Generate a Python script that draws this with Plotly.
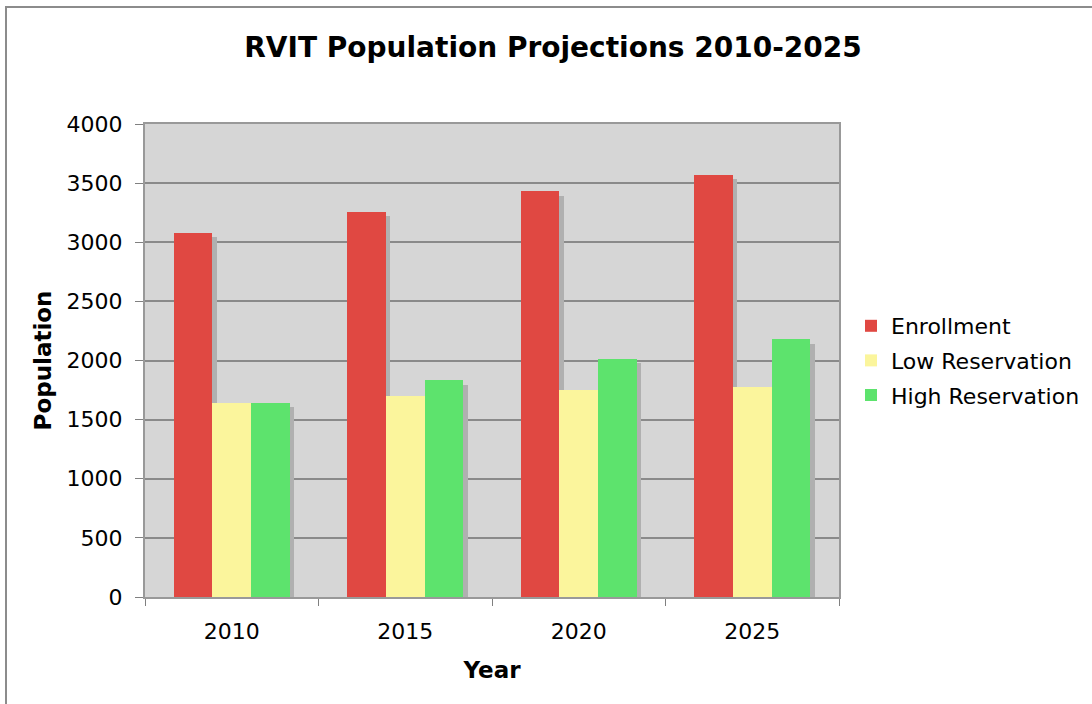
import plotly.graph_objects as go

years = ["2010", "2015", "2020", "2025"]
enrollment = [3080, 3258, 3432, 3570]
low_reservation = [1641, 1698, 1749, 1777]
high_reservation = [1641, 1833, 2014, 2178]
series_names = ["Enrollment", "Low Reservation", "High Reservation"]
series_colors = ["#e04842", "#fbf59c", "#5de36d"]
y_ticks = [0, 500, 1000, 1500, 2000, 2500, 3000, 3500, 4000]

FONT = "DejaVu Sans"
W, H = 1092, 704
ML, MR, MT, MB = 145, 253, 124, 107
PW, PH = W - ML - MR, H - MT - MB

bar_w = 0.223
offsets = [-1.5 * bar_w, -0.5 * bar_w, 0.5 * bar_w]
ymax = 4000
sh_dx = 4.5 / (PW / 4)         # shadow shift in category units
sh_dy = 4.5 * ymax / PH        # shadow shift in data units

fig = go.Figure()
all_series = [enrollment, low_reservation, high_reservation]

# shadows first
for vals, off in zip(all_series, offsets):
    fig.add_trace(go.Bar(
        x=years, y=vals, base=-sh_dy, offset=off + sh_dx, width=bar_w,
        marker=dict(color="#b0b0b0", line=dict(width=0)),
        showlegend=False, hoverinfo="skip"))

for i, (name, vals, col, off) in enumerate(zip(series_names, all_series, series_colors, offsets)):
    fig.add_trace(go.Bar(
        x=years, y=vals, name=name, offset=off, width=bar_w,
        marker=dict(color=col, line=dict(width=0)),
        legendgroup=name))

fig.update_layout(
    width=W, height=H,
    margin=dict(l=ML, r=MR, t=MT, b=MB, autoexpand=False),
    barmode="overlay",
    paper_bgcolor="white",
    plot_bgcolor="#d6d6d6",
    font=dict(family=FONT, size=22, color="black"),
    title=dict(text="<b>RVIT Population Projections 2010-2025</b>",
               x=553 / W, xanchor="center", y=1 - 47 / H, yanchor="middle",
               font=dict(size=28, family=FONT)),
    legend=dict(x=(851 - ML) / PW, xanchor="left", y=0.5, yanchor="middle",
                font=dict(size=22, family=FONT), tracegroupgap=3,
                bgcolor="rgba(0,0,0,0)", traceorder="grouped"),
    showlegend=True,
    bargap=0,
)

fig.update_xaxes(
    type="category", range=[-0.5, 3.5],
    tickson="boundaries", ticks="outside", ticklen=7, tickcolor="#808080", tickwidth=1,
    showline=True, linecolor="#999999", linewidth=2, mirror=True,
    showgrid=False, tickfont=dict(size=22), ticklabelstandoff=14,
    title=dict(text="<b>Year</b>", font=dict(size=23), standoff=18),
)
fig.update_yaxes(
    range=[0, ymax], tickvals=y_ticks, ticks="outside", ticklen=8,
    tickcolor="#808080", tickwidth=1,
    showline=True, linecolor="#999999", linewidth=2, mirror=True,
    showgrid=True, gridcolor="#8a8a8a", gridwidth=1.5,
    zeroline=False, tickfont=dict(size=22), ticklabelstandoff=8,
    title=dict(text="<b>Population</b>", font=dict(size=23), standoff=9),
)

# outer frame
fig.add_shape(type="rect", xref="paper", yref="paper",
              x0=(6 - ML) / PW, x1=(W + 20 - ML) / PW,
              y0=-(H + 20 - MT - PH) / PH, y1=(H - MB - 7) / PH,
              line=dict(color="#8c8c8c", width=2), layer="below")

fig.write_html("out.html", config={"displayModeBar": False},
               post_script="document.body.style.margin='0';")
